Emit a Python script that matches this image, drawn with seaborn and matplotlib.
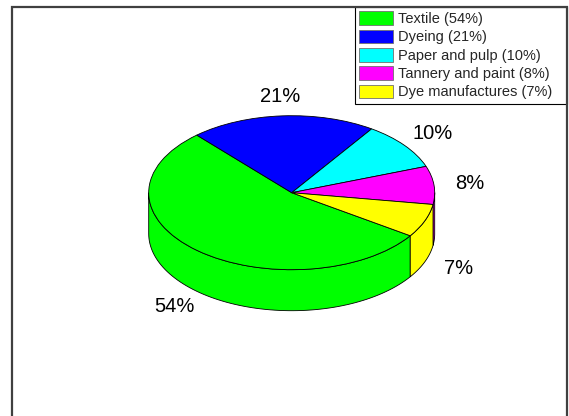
import numpy as np
import matplotlib
matplotlib.use("Agg")
import matplotlib.pyplot as plt
from matplotlib.patches import Polygon, Rectangle
import seaborn as sns

# Share of dye-bearing wastewater by source industry (%)
sources = ["Textile", "Dyeing", "Paper and pulp", "Tannery and paint", "Dye manufactures"]
shares = [54, 21, 10, 8, 7]
colors = ["#00FF00", "#0000FF", "#00FFFF", "#FF00FF", "#FFFF00"]

sns.set_theme(style="white")
plt.rcParams["font.family"] = ["Liberation Sans", "DejaVu Sans"]

W, H = 569, 416
fig = plt.figure(figsize=(W / 100, H / 100), dpi=100)
ax = fig.add_axes([0, 0, 1, 1])

# disc geometry in pixels: centre, horizontal / vertical radius, thickness
cx, cy, rx, ry, thick = 291.7, 192.7, 143.0, 77.0, 41.0
depth = thick / ry

pct_labels = [f"{v}%" for v in shares]
wedges, texts = ax.pie(
    shares, colors=colors, startangle=326, counterclock=False,
    labels=pct_labels, labeldistance=1.25,
    wedgeprops=dict(edgecolor="black", linewidth=0.6),
    textprops=dict(fontsize=14.5, color="black"),
)
for w in wedges:
    w.set_zorder(3)

# side wall of the disc: front half (180..360 deg) of each slice
for w, c in zip(wedges, colors):
    t1, t2 = w.theta1, w.theta2
    for k in (-360, 0, 360):
        lo, hi = max(t1 + k, 180), min(t2 + k, 360)
        if hi - lo <= 0:
            continue
        t = np.radians(np.linspace(lo, hi, 80))
        top = np.column_stack([np.cos(t), np.sin(t)])
        bot = np.column_stack([np.cos(t[::-1]), np.sin(t[::-1]) - depth])
        ax.add_patch(Polygon(np.vstack([top, bot]), closed=True, facecolor=c,
                             edgecolor="black", linewidth=0.6, zorder=2))

# labels below the rim sit beside the wall
for txt in texts:
    x, y = txt.get_position()
    if y < 0:
        txt.set_position((x, y - depth))
    txt.set_ha("center")
    txt.set_va("center")

ax.set_aspect("auto")
ax.set_xlim(-cx / rx, (W - cx) / rx)
ax.set_ylim(-(H - cy) / ry, cy / ry)
ax.axis("off")

# outer frame
fig.patches.append(Rectangle((12 / W, -0.05), (567 - 12) / W, 1.05 - 7 / H,
                             transform=fig.transFigure, fill=False,
                             edgecolor="#404040", linewidth=1.6, zorder=0))

# legend box spans a fixed strip in the upper-right corner
lx0, lx1, ltop = 355, 567, 7
leg_labels = [f"{s} ({v}%)" for s, v in zip(sources, shares)]
leg = ax.legend(
    wedges, leg_labels, loc="upper left", mode="expand",
    bbox_to_anchor=(lx0 / W, 1 - ltop / H - 0.001, (lx1 - lx0) / W, 0.001),
    bbox_transform=fig.transFigure,
    fontsize=10.5, frameon=True, fancybox=False, framealpha=1,
    edgecolor="black", handlelength=2.3, handleheight=1.06,
    handletextpad=0.35, labelspacing=0.24, borderpad=0.3, borderaxespad=0,
)
leg.get_frame().set_linewidth(0.8)
for h in leg.legend_handles:
    h.set_edgecolor("#707070")

fig.savefig("out.png", dpi=100)
